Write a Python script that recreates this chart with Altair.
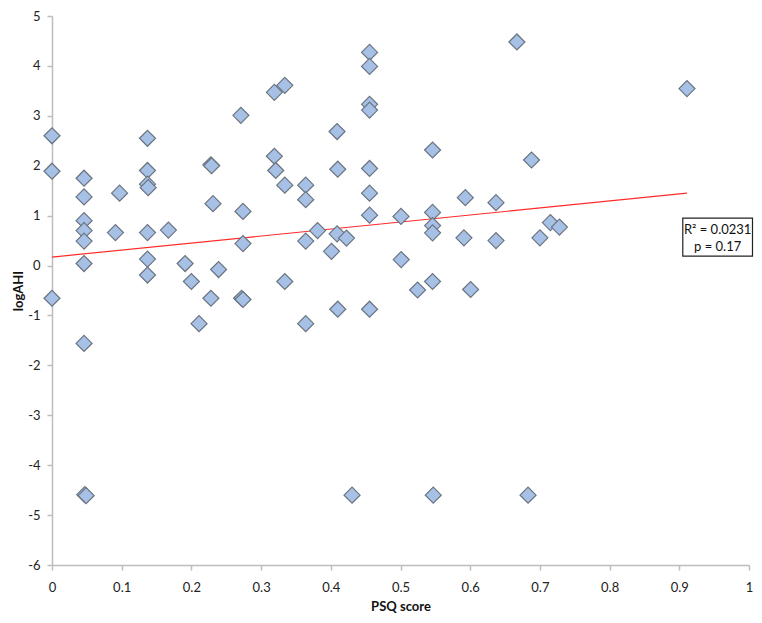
import altair as alt
import pandas as pd

# PSQ score (x) and logAHI (y)
psq = [0.000, 0.000, 0.000,
       0.046, 0.046, 0.046, 0.046, 0.046, 0.046, 0.046, 0.047, 0.049,
       0.097, 0.091,
       0.137, 0.137, 0.137, 0.138, 0.137, 0.137, 0.137,
       0.167, 0.191, 0.200, 0.211,
       0.228, 0.229, 0.231, 0.239, 0.228,
       0.271, 0.274, 0.274, 0.272, 0.274,
       0.319, 0.334, 0.319, 0.321, 0.334, 0.334,
       0.364, 0.364, 0.364, 0.364, 0.381,
       0.401, 0.409, 0.410, 0.409, 0.410, 0.4225, 0.4305,
       0.4556, 0.4556, 0.4556, 0.4556, 0.4556, 0.4556, 0.4556, 0.4556,
       0.5007, 0.501, 0.5245,
       0.546, 0.546, 0.546, 0.546, 0.546, 0.547,
       0.591, 0.593, 0.6006,
       0.637, 0.637, 0.667, 0.683, 0.688, 0.700, 0.715, 0.728, 0.911]
log_ahi = [2.60, 1.89, -0.655,
           1.75, 1.375, 0.90, 0.70, 0.49, 0.04, -1.56, -4.59, -4.61,
           1.45, 0.66,
           2.55, 1.905, 1.63, 1.56, 0.66, 0.13, -0.19,
           0.71, 0.04, -0.32, -1.165,
           2.02, 2.00, 1.24, -0.08, -0.655,
           3.01, 1.085, 0.44, -0.655, -0.68,
           3.47, 3.61, 2.19, 1.905, 1.61, -0.32,
           1.61, 1.32, 0.49, -1.165, 0.70,
           0.285, 2.685, 1.93, 0.635, -0.875, 0.55, -4.60,
           4.27, 3.99, 3.23, 3.115, 1.945, 1.45, 1.01, -0.875,
           0.985, 0.12, -0.49,
           2.315, 1.065, 0.80, 0.655, -0.32, -4.60,
           0.555, 1.36, -0.48,
           1.26, 0.50, 4.48, -4.60, 2.115, 0.555, 0.86, 0.77, 3.545]

# fitted trend line end points as drawn
trend_x = [0.0, 0.911]
trend_y = [0.17, 1.45]

# annotation
stats_lines = ["R\u00b2 = 0.0231", "p = 0.17"]
box_x = [0.905, 1.005]
box_y = [0.95, 0.19]
label_x = [0.955, 0.955]
label_y = [0.71, 0.37]

x_ticks = [0, 0.1, 0.2, 0.3, 0.4, 0.5, 0.6, 0.7, 0.8, 0.9, 1]
y_ticks = [5, 4, 3, 2, 1, 0, -1, -2, -3, -4, -5, -6]

FONT = "Lato"
AXIS_GREY = "#bdbdbd"

pts = pd.DataFrame({"psq": psq, "logAHI": log_ahi})
trend = pd.DataFrame({"psq": trend_x, "logAHI": trend_y})
box = pd.DataFrame({"x": [box_x[0]], "x2": [box_x[1]], "y": [box_y[0]], "y2": [box_y[1]]})
labels = pd.DataFrame({"x": label_x, "y": label_y, "t": stats_lines})

xs = alt.Scale(domain=[0, 1], nice=False, zero=False)
ys = alt.Scale(domain=[-6, 5], nice=False, zero=False)

x_axis = alt.Axis(values=x_ticks, format="~g", title="PSQ score", grid=False,
                  domainColor=AXIS_GREY, domainWidth=1.5, tickColor=AXIS_GREY,
                  tickWidth=1.5, tickSize=5, labelPadding=11, labelFontSize=13,
                  labelColor="#222222", labelFont=FONT, titleFont=FONT,
                  titleFontSize=13, titleFontWeight="bold", titleColor="#111111",
                  titlePadding=6, labelFlush=False)
y_axis = alt.Axis(values=y_ticks, format="~g", title="logAHI", grid=False,
                  labelExpr="replace(datum.label, '\u2212', '-')",
                  domainColor=AXIS_GREY, domainWidth=1.5, tickColor=AXIS_GREY,
                  tickWidth=1.5, tickSize=5, labelPadding=7, labelFontSize=13,
                  labelColor="#222222", labelFont=FONT, titleFont=FONT,
                  titleFontSize=13, titleFontWeight="bold", titleColor="#111111",
                  titlePadding=2, labelFlush=False)

points = alt.Chart(pts).mark_point(
    shape="diamond", size=256, filled=True, fill="#a6c1e5", stroke="#6b7480",
    strokeWidth=1.2, opacity=1,
).encode(
    x=alt.X("psq:Q", scale=xs, axis=x_axis),
    y=alt.Y("logAHI:Q", scale=ys, axis=y_axis),
)

line = alt.Chart(trend).mark_line(color="#ff2a2a", strokeWidth=1.2).encode(
    x=alt.X("psq:Q", scale=xs),
    y=alt.Y("logAHI:Q", scale=ys),
)

rect = alt.Chart(box).mark_rect(fill="white", stroke="#222222", strokeWidth=1.2).encode(
    x=alt.X("x:Q", scale=xs), x2="x2:Q",
    y=alt.Y("y:Q", scale=ys), y2="y2:Q",
)

txt = alt.Chart(labels).mark_text(font=FONT, fontSize=13, color="#111111",
                                  align="center", baseline="middle").encode(
    x=alt.X("x:Q", scale=xs), y=alt.Y("y:Q", scale=ys), text="t:N",
)

chart = alt.layer(line, points, rect, txt).properties(
    width=697, height=549,
    autosize=alt.AutoSizeParams(type="none"),
    padding={"left": 44, "top": 8, "right": 5, "bottom": 50},
).configure_view(stroke=None)

chart.save("out.html", embed_options={"renderer": "svg", "actions": False})
